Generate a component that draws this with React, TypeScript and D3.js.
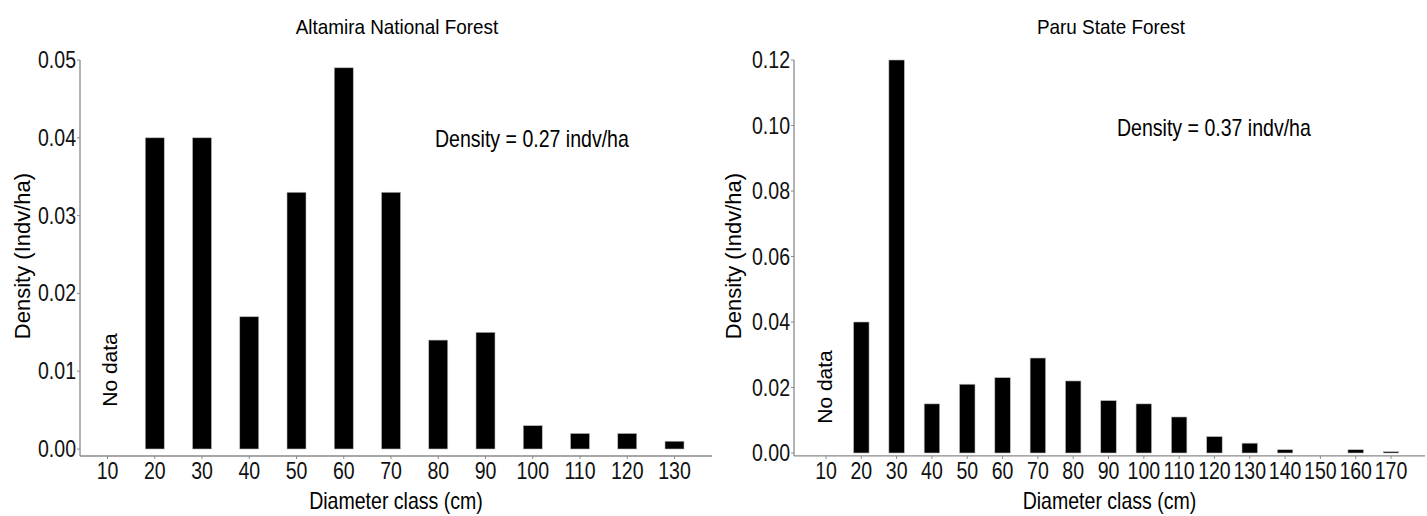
import React from 'react';
import * as d3 from 'd3';

const altamiraClasses = ['10', '20', '30', '40', '50', '60', '70', '80', '90', '100', '110', '120', '130'];
const altamiraDensity = [null, 0.04, 0.04, 0.017, 0.033, 0.049, 0.033, 0.014, 0.015, 0.003, 0.002, 0.002, 0.001];
const altamiraTicks = [0, 0.01, 0.02, 0.03, 0.04, 0.05];

const paruClasses = ['10', '20', '30', '40', '50', '60', '70', '80', '90', '100', '110', '120', '130', '140', '150', '160', '170'];
const paruDensity = [null, 0.04, 0.12, 0.015, 0.021, 0.023, 0.029, 0.022, 0.016, 0.015, 0.011, 0.005, 0.003, 0.001, null, 0.001, 0.0004];
const paruTicks = [0, 0.02, 0.04, 0.06, 0.08, 0.1, 0.12];

const font = '"Liberation Sans", Arial, sans-serif';

// no narrow font available, so squeeze Liberation Sans horizontally
const NText = ({ x, y, size = 23, sx = 0.85, anchor = 'start', fill = '#111', children }: any) => (
  <text transform={`translate(${x},${y}) scale(${sx},1)`} textAnchor={anchor} dy="0.35em"
    fontFamily={font} fontSize={size} fill={fill}>{children}</text>
);

type PanelProps = {
  title: string;
  classes: string[];
  values: (number | null)[];
  ticks: number[];
  yMax: number;
  axisX: number;
  axisEnd: number;
  firstX: number;
  lastX: number;
  yTop: number;
  yZero: number;
  barW: number;
  titleX: number;
  note: string;
  noteX: number;
  noteY: number;
  yTitleX: number;
  noDataX: number;
  noDataY: number;
};

const Panel = (p: PanelProps) => {
  const x = d3.scalePoint().domain(p.classes).range([p.firstX, p.lastX]);
  const y = d3.scaleLinear().domain([0, p.yMax]).range([p.yZero, p.yTop]);
  const axisY = y(-0.0009);
  const fmt = d3.format('.2f');
  return (
    <g>
      <NText x={p.titleX} y={27} size={21} sx={0.9} anchor="middle" fill="#000">{p.title}</NText>
      {p.values.map((v, i) =>
        v == null ? null : (
          <rect key={i} x={x(p.classes[i])! - p.barW / 2} y={y(v)} width={p.barW}
            height={p.yZero - y(v)} fill="#000" stroke="#bbb" strokeWidth={0.6} />
        )
      )}
      <line x1={p.axisX} x2={p.axisX} y1={p.yTop} y2={axisY} stroke="#8a8a8a" strokeWidth={1.3} />
      <line x1={p.axisX} x2={p.axisEnd} y1={axisY} y2={axisY} stroke="#8a8a8a" strokeWidth={1.3} />
      {p.ticks.map((t) => (
        <g key={t}>
          <line x1={p.axisX - 3} x2={p.axisX} y1={y(t)} y2={y(t)} stroke="#8a8a8a" />
          <NText x={p.axisX - 4} y={y(t)} anchor="end">{fmt(t)}</NText>
        </g>
      ))}
      {p.classes.map((c) => (
        <g key={c}>
          <line x1={x(c)} x2={x(c)} y1={axisY} y2={axisY + 3} stroke="#8a8a8a" />
          <NText x={x(c)} y={axisY + 15} anchor="middle">{c}</NText>
        </g>
      ))}
      <NText x={(p.axisX + p.axisEnd) / 2} y={501} anchor="middle" fill="#000">Diameter class (cm)</NText>
      <text transform={`translate(${p.yTitleX},256) rotate(-90)`} textAnchor="middle" dy="0.35em" fontFamily={font} fontSize={22}>Density (Indv/ha)</text>
      <text transform={`translate(${p.noDataX},${p.noDataY}) rotate(-90)`} textAnchor="middle" dy="0.35em" fontFamily={font} fontSize={21}>No data</text>
      <NText x={p.noteX} y={p.noteY} fill="#000">{p.note}</NText>
    </g>
  );
};

export default function App() {
  return (
    <svg width={1427} height={516} style={{ display: 'block', position: 'absolute', left: 0, top: 0, background: '#fff' }}>
      <Panel title="Altamira National Forest" classes={altamiraClasses} values={altamiraDensity} ticks={altamiraTicks}
        yMax={0.05} axisX={80} axisEnd={712} firstX={107.5} lastX={674.5} yTop={60} yZero={449} barW={19}
        titleX={397} note="Density = 0.27 indv/ha" noteX={435} noteY={139} yTitleX={22} noDataX={110} noDataY={370} />
      <Panel title="Paru State Forest" classes={paruClasses} values={paruDensity} ticks={paruTicks}
        yMax={0.12} axisX={794} axisEnd={1425} firstX={826} lastX={1391} yTop={60} yZero={453} barW={15.5}
        titleX={1111} note="Density = 0.37 indv/ha" noteX={1117} noteY={128} yTitleX={733} noDataX={825} noDataY={387} />
    </svg>
  );
}
